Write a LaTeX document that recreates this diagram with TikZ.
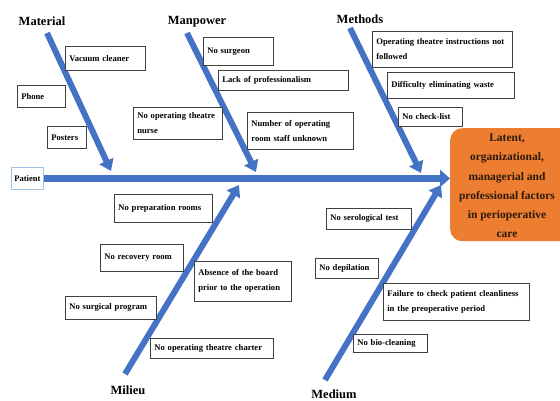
\documentclass[tikz,border=0pt]{standalone}
\usepackage{fontspec}
\setmainfont{Liberation Serif}
\usetikzlibrary{arrows.meta,calc}
\definecolor{boneblue}{HTML}{4472C4}
\definecolor{effectorange}{HTML}{ED7D31}
\definecolor{patientborder}{HTML}{9DC3E6}
\definecolor{effecttextcol}{HTML}{2A1A0C}
\newcommand\bxl[1]{\mbox{#1}}
\tikzset{
  bone/.style={draw=boneblue, line width=6pt, -{Triangle[length=11pt,width=15pt]}},
  spine/.style={draw=boneblue, line width=7pt, -{Triangle[length=10pt,width=17pt]}},
  box/.style={draw=black!75, line width=0.7pt, fill=white, anchor=north west,
    align=left, inner xsep=4pt, inner ysep=2pt,
    font=\fontsize{8.6}{15}\selectfont\bfseries},
  cat/.style={font=\fontsize{12.5}{14}\selectfont\bfseries, inner sep=0pt},
}
\begin{document}
\begin{tikzpicture}[x=1pt,y=-1pt]
\useasboundingbox (0,0) rectangle (560,401);

% effect box
\node[fill=effectorange, rounded corners=12pt, anchor=north west,
  minimum width=122pt, minimum height=113pt, inner sep=0pt] (effect) at (450,128) {};
\node[font=\fontsize{11.5}{19.3}\selectfont\bfseries, align=center, text=effecttextcol, inner sep=0pt]
  (effecttext) at (507,186) {Latent,\\organizational,\\managerial and\\professional factors\\in perioperative\\care};

% patient box
\node[draw=patientborder, line width=0.9pt, fill=white, anchor=north west,
  minimum width=32pt, minimum height=22pt, inner sep=1pt,
  font=\fontsize{8.5}{10}\selectfont\bfseries] (patient) at (11,167) {Patient};

% category labels
\node[cat] (material) at (42,21) {Material};
\node[cat] (manpower) at (197,22) {Manpower};
\node[cat] (methods) at (360,19) {Methods};
\node[cat] (milieu) at (128,390) {Milieu};
\node[cat] (medium) at (334,394) {Medium};

% bone coordinates
\coordinate (matS) at (47,33);
\coordinate (matT) at (111,171);
\coordinate (manS) at (187,33);
\coordinate (manT) at (256,172);
\coordinate (metS) at (350,28);
\coordinate (metT) at (421,173);
\coordinate (milS) at (125,374);
\coordinate (milT) at (239,185);
\coordinate (medS) at (325,380);
\coordinate (medT) at (441,185);

% spine
\draw[spine] (patient.east) -- (patient.east -| effect.west);

% bones
\draw[bone] (matS) -- (matT);
\draw[bone] (manS) -- (manT);
\draw[bone] (metS) -- (metT);
\draw[bone] (milS) -- (milT);
\draw[bone] (medS) -- (medT);

% material causes
\node[box, text width=72pt, minimum height=24pt] (vac) at (65,46) {\bxl{Vacuum cleaner}};
\node[box, text width=40pt, minimum height=22pt] (phone) at (17,85) {\bxl{Phone}};
\node[box, text width=31pt, minimum height=22pt] (posters) at (47,126) {\bxl{Posters}};

% manpower causes
\node[box, text width=62pt, minimum height=28pt] (surg) at (203,37) {\bxl{No surgeon}};
\node[box, text width=122pt, minimum height=20pt] (lack) at (218,70) {\bxl{Lack of professionalism}};
\node[box, text width=81pt, minimum height=32pt] (nurse) at (133,107) {\bxl{No operating theatre}\\\bxl{nurse}};
\node[box, text width=98pt, minimum height=37pt] (staff) at (247,112) {\bxl{Number of operating}\\\bxl{room staff unknown}};

% methods causes
\node[box, text width=132pt, minimum height=36pt] (instr) at (372,31) {\bxl{Operating theatre instructions not}\\\bxl{followed}};
\node[box, text width=119pt, minimum height=26pt] (waste) at (387,72) {\bxl{Difficulty eliminating waste}};
\node[box, text width=56pt, minimum height=19pt] (check) at (398,107) {\bxl{No check-list}};

% milieu causes
\node[box, text width=90pt, minimum height=28pt] (prep) at (114,194) {\bxl{No preparation rooms}};
\node[box, text width=75pt, minimum height=27pt] (recov) at (100,244) {\bxl{No recovery room}};
\node[box, text width=83pt, minimum height=23pt] (prog) at (65,296) {\bxl{No surgical program}};
\node[box, text width=89pt, minimum height=40pt] (board) at (194,261) {\bxl{Absence of the board}\\\bxl{prior to the operation}};
\node[box, text width=115pt, minimum height=20pt] (charter) at (150,338) {\bxl{No operating theatre charter}};

% medium causes
\node[box, text width=77pt, minimum height=21pt] (sero) at (326,208) {\bxl{No serological test}};
\node[box, text width=55pt, minimum height=20pt] (depil) at (315,258) {\bxl{No depilation}};
\node[box, text width=138pt, minimum height=37pt] (fail) at (383,283) {\bxl{Failure to check patient cleanliness}\\\bxl{in the preoperative period}};
\node[box, text width=66pt, minimum height=18pt] (bio) at (353,334) {\bxl{No bio-cleaning}};
\end{tikzpicture}
\end{document}
